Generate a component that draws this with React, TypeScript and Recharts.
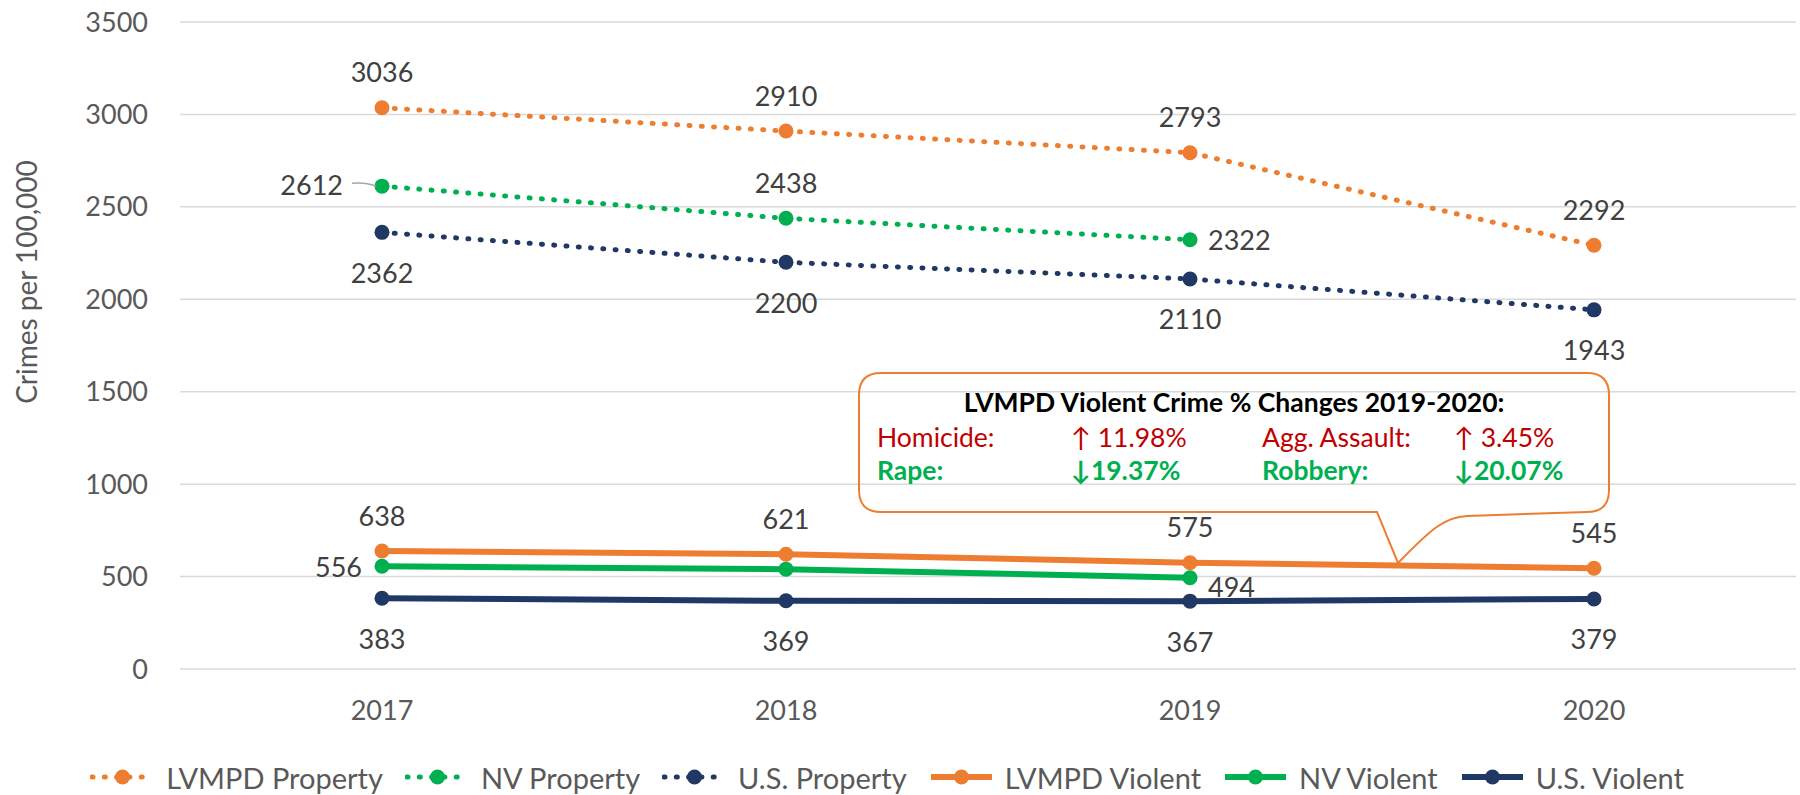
import { LineChart, Line, XAxis, YAxis, CartesianGrid, Legend, LabelList, Customized } from 'recharts';

const FONT = 'Lato, "Liberation Sans", sans-serif';
const ORANGE = '#ED7D31';
const GREEN = '#00B050';
const NAVY = '#203864';
const RED = '#C00000';

const years = ['2017', '2018', '2019', '2020'];
const lvmpdProperty = [3036, 2910, 2793, 2292];
const nvProperty = [2612, 2438, 2322, null];
const usProperty = [2362, 2200, 2110, 1943];
const lvmpdViolent = [638, 621, 575, 545];
const nvViolent = [556, 540, 494, null];
const usViolent = [383, 369, 367, 379];
const yTicks = [0, 500, 1000, 1500, 2000, 2500, 3000, 3500];

// where each point's value label sits
const lvmpdPropertyLabels = ['above', 'above', 'above', 'above'];
const nvPropertyLabels = ['leftLeader', 'above', 'right', 'none'];
const usPropertyLabels = ['below', 'below', 'below', 'below'];
const lvmpdViolentLabels = ['above', 'above', 'above', 'above'];
const nvViolentLabels = ['left', 'none', 'belowRight', 'none'];
const usViolentLabels = ['below', 'below', 'below', 'below'];

const series = [
  { key: 'lvmpdProperty', name: 'LVMPD Property', color: ORANGE, dotted: true, values: lvmpdProperty, labels: lvmpdPropertyLabels },
  { key: 'nvProperty', name: 'NV Property', color: GREEN, dotted: true, values: nvProperty, labels: nvPropertyLabels },
  { key: 'usProperty', name: 'U.S. Property', color: NAVY, dotted: true, values: usProperty, labels: usPropertyLabels },
  { key: 'lvmpdViolent', name: 'LVMPD Violent', color: ORANGE, dotted: false, values: lvmpdViolent, labels: lvmpdViolentLabels },
  { key: 'nvViolent', name: 'NV Violent', color: GREEN, dotted: false, values: nvViolent, labels: nvViolentLabels },
  { key: 'usViolent', name: 'U.S. Violent', color: NAVY, dotted: false, values: usViolent, labels: usViolentLabels },
];

const data = years.map((year, i) => {
  const row: Record<string, any> = { year };
  series.forEach(s => { row[s.key] = s.values[i]; });
  return row;
});

const DOTTED = '1 11.3';

const makeLabel = (positions: string[]) => (props: any) => {
  const { x, y, value, index } = props;
  const pos = positions[index];
  if (value == null || x == null || y == null || pos === 'none') return null;
  let tx = x, ty = y, anchor: 'middle' | 'start' | 'end' = 'middle';
  if (pos === 'above') ty = y - 36;
  if (pos === 'below') ty = y + 40;
  if (pos === 'left') { tx = x - 20; anchor = 'end'; }
  if (pos === 'right') { tx = x + 18; anchor = 'start'; }
  if (pos === 'belowRight') { tx = x + 18; ty = y + 9; anchor = 'start'; }
  if (pos === 'leftLeader') { tx = x - 39; ty = y - 2; anchor = 'end'; }
  return (
    <g key={`lbl-${index}`}>
      {pos === 'leftLeader' && (
        <path d={`M${x - 30},${y - 3} Q${x - 16},${y - 4} ${x - 6},${y}`} stroke="#A6A6A6" strokeWidth={1.5} fill="none" />
      )}
      <text x={tx} y={ty} textAnchor={anchor} dominantBaseline="central" fontSize={27} fontFamily={FONT} fill="#404040">
        {value}
      </text>
    </g>
  );
};

const makeDot = (color: string) => (props: any) => {
  const { cx, cy, index } = props;
  if (cx == null || cy == null || props.value == null) return <g key={`d-${index}`} />;
  return <circle key={`d-${index}`} cx={cx} cy={cy} r={7.5} fill={color} />;
};

function Callout() {
  const rowStyle = { fontFamily: FONT, dominantBaseline: 'central' as const };
  return (
    <g>
      <text x={26} y={282} transform="rotate(-90, 26, 282)" textAnchor="middle" dominantBaseline="central" fontSize={28} fontFamily={FONT} fill="#595959">
        Crimes per 100,000
      </text>
      <path
        d="M881,373 H1587 Q1609,373 1609,395 V490 Q1609,512 1587,512 L1467,516 C1445,517 1432,528 1398,563 L1377,512 H881 Q859,512 859,490 V395 Q859,373 881,373 Z"
        fill="none" stroke={ORANGE} strokeWidth={2}
      />
      <text x={1234} y={402} textAnchor="middle" fontSize={26.5} fontWeight="bold" fill="#000" {...rowStyle}>
        LVMPD Violent Crime % Changes 2019-2020:
      </text>
      <g fontSize={26.5} fill={RED}>
        <text x={877} y={437} {...rowStyle}>Homicide:</text>
        <text x={1071} y={437} {...rowStyle}>↑ 11.98%</text>
        <text x={1262} y={437} {...rowStyle}>Agg. Assault:</text>
        <text x={1454} y={437} {...rowStyle}>↑ 3.45%</text>
      </g>
      <g fontSize={26.5} fontWeight="bold" fill={GREEN}>
        <text x={877} y={470} {...rowStyle}>Rape:</text>
        <text x={1071} y={470} {...rowStyle}>↓19.37%</text>
        <text x={1262} y={470} {...rowStyle}>Robbery:</text>
        <text x={1454} y={470} {...rowStyle}>↓20.07%</text>
      </g>
    </g>
  );
}

const renderLegend = () => (
  <div style={{ display: 'flex', justifyContent: 'center', alignItems: 'center', height: 36, fontFamily: FONT, fontSize: 29, color: '#595959' }}>
    {series.map(s => (
      <div key={s.key} style={{ display: 'flex', alignItems: 'center', marginRight: 22 }}>
        <svg width={65} height={20} style={{ marginRight: 11 }}>
          <line x1={2} y1={10} x2={63} y2={10} stroke={s.color} strokeWidth={s.dotted ? 5 : 6}
            strokeDasharray={s.dotted ? DOTTED : undefined} strokeLinecap={s.dotted ? 'round' : 'butt'} />
          <circle cx={32.5} cy={10} r={7.5} fill={s.color} />
        </svg>
        <span>{s.name}</span>
      </div>
    ))}
  </div>
);

export default function App() {
  return (
    <div style={{ position: 'absolute', left: 0, top: 0, background: '#fff' }}>
      <LineChart width={1800} height={795} data={data} margin={{ top: 22, right: 4, left: 0, bottom: 0 }}>
        <CartesianGrid vertical={false} stroke="#D9D9D9" strokeWidth={1.5} />
        <XAxis dataKey="year" interval={0} axisLine={false} tickLine={false} tickSize={0} tickMargin={32} height={90}
          padding={{ left: 202, right: 202 }}
          tick={{ fontSize: 27, fill: '#595959', fontFamily: FONT }} />
        <YAxis domain={[0, 3500]} ticks={yTicks} width={180} axisLine={false} tickLine={false} tickSize={0} tickMargin={32}
          tick={{ fontSize: 27, fill: '#595959', fontFamily: FONT }} />
        <Legend verticalAlign="bottom" content={renderLegend} />
        {series.map(s => (
          <Line key={s.key} type="linear" dataKey={s.key} name={s.name} stroke={s.color}
            strokeWidth={s.dotted ? 5 : 6} strokeDasharray={s.dotted ? DOTTED : undefined}
            strokeLinecap={s.dotted ? 'round' : 'butt'}
            dot={makeDot(s.color)} activeDot={false} isAnimationActive={false}>
            <LabelList dataKey={s.key} content={makeLabel(s.labels)} />
          </Line>
        ))}
        <Customized component={Callout} />
      </LineChart>
    </div>
  );
}
